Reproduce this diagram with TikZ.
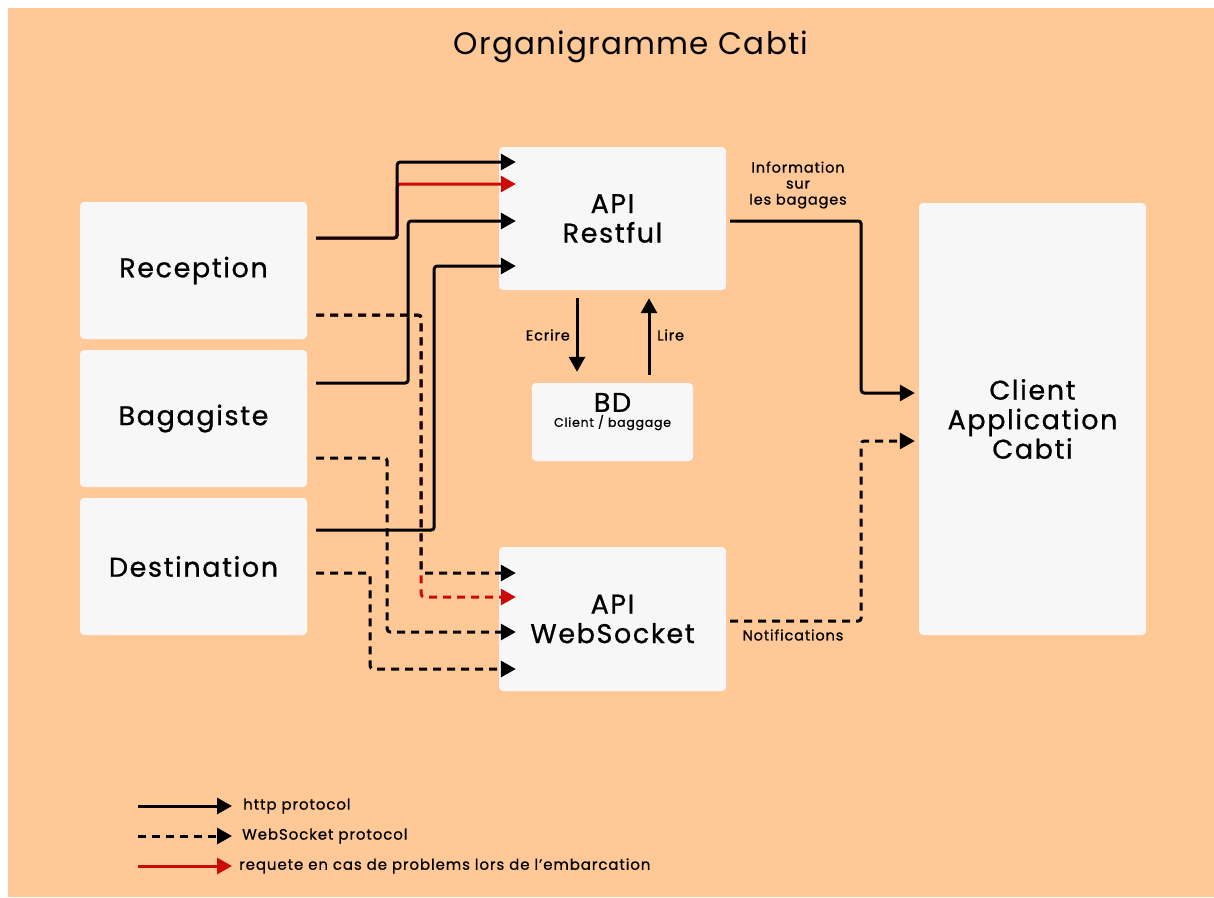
\documentclass[tikz,border=0pt]{standalone}
\usepackage{fontspec}
\setmainfont{Poppins}
\newfontfamily\diagfont{Poppins}[LetterSpace=6, FakeBold=0.8]
\newfontfamily\titlefont{Poppins}[LetterSpace=4]
\usetikzlibrary{arrows.meta, positioning, calc}
\definecolor{bgorange}{HTML}{FFC897}
\definecolor{boxwhite}{HTML}{F7F7F7}
\definecolor{reqred}{HTML}{CC0A0A}

\begin{document}
\begin{tikzpicture}[x=1pt, y=-1pt, >={Triangle[length=15pt,width=16pt]},
    box/.style={rectangle, rounded corners=4pt, fill=boxwhite, minimum width=227pt,
        minimum height=137pt, align=center, inner sep=0pt,
        font=\diagfont\fontsize{27}{29.5}\selectfont},
    http/.style={line width=3pt, ->, rounded corners=3pt},
    wsline/.style={line width=3pt, ->, dash pattern=on 8pt off 6pt, rounded corners=3pt},
    lbl/.style={inner sep=0pt, align=center, font=\diagfont\fontsize{14.5}{16}\selectfont},
    legtext/.style={inner sep=0pt, anchor=west, font=\diagfont\fontsize{15}{18}\selectfont}]
          \useasboundingbox (0,0) rectangle (1214,897);
          \fill[white] (0,0) rectangle (1214,897);
          \fill[bgorange] (8,8) rectangle (1214,897);

          \node[font=\titlefont\fontsize{31}{36}\selectfont] (title) at (631,47) {Organigramme Cabti};

          % boxes
          \node[box] (rec) at (193.5,270.5) {Reception};
          \node[box] (bag) at (193.5,418.5) {Bagagiste};
          \node[box] (dst) at (193.5,566.5) {Destination};
          \node[box, minimum height=143pt] (rest) at (612.5,218.5) {API\\Restful};
          \node[box, minimum height=144pt] (ws) at (612.5,619) {API\\WebSocket};
          \node[box, minimum height=432pt] (cli) at (1032.5,419) {Client\\Application\\Cabti};
          \node[box, minimum width=161pt, minimum height=78pt] (bd) at (612.5,422) {};
          \node[lbl, anchor=north] (bdtxt) at ([yshift=-10pt]bd.north)
              {{\fontsize{27}{24}\selectfont BD}\\[-1pt]{\fontsize{12.5}{14}\selectfont Client / baggage}};

          % http
          \draw[http, reqred] ([xshift=9pt,yshift=32.5pt]rec.east) -- ++(81,0)
              |- ([xshift=17pt,yshift=34.5pt]rest.west);
          \draw[http] ([xshift=9pt,yshift=32.5pt]rec.east) -- ++(81,0)
              |- ([xshift=17pt,yshift=56.5pt]rest.west);
          \draw[http] ([xshift=9pt,yshift=35.5pt]bag.east) -- ++(92,0)
              |- ([xshift=17pt,yshift=-2.5pt]rest.west);
          \draw[http] ([xshift=9pt,yshift=36.5pt]dst.east) -- ++(118,0)
              |- ([xshift=17pt,yshift=-47.5pt]rest.west);

          % websocket
          \draw[wsline, reqred] ([xshift=9pt,yshift=-44.5pt]rec.east) -- ++(105,0)
              |- ([xshift=17pt,yshift=22pt]ws.west);
          \draw[wsline] ([xshift=9pt,yshift=-44.5pt]rec.east) -- ++(105,0)
              |- ([xshift=17pt,yshift=46pt]ws.west);
          \draw[wsline] ([xshift=9pt,yshift=-39.5pt]bag.east) -- ++(71,0)
              |- ([xshift=17pt,yshift=-13pt]ws.west);
          \draw[wsline] ([xshift=9pt,yshift=-6.5pt]dst.east) -- ++(54,0)
              |- ([xshift=17pt,yshift=-50pt]ws.west);

          % bd
          \draw[http] ([xshift=-35.5pt,yshift=-8pt]rest.south) -- ([xshift=-35.5pt,yshift=11pt]bd.north);
          \draw[http] ([xshift=36.5pt,yshift=8pt]bd.north) -- ([xshift=36.5pt,yshift=-8pt]rest.south);
          \node[lbl, anchor=east] (ecr) at (570,335) {Ecrire};
          \node[lbl, anchor=west] (lire) at (657,335) {Lire};

          % client
          \draw[http] ([xshift=4pt,yshift=-2.5pt]rest.east) -- ++(131,0)
              |- ([xshift=-4pt,yshift=26pt]cli.west);
          \draw[wsline] ([xshift=4pt,yshift=-2pt]ws.east) -- ++(131,0)
              |- ([xshift=-4pt,yshift=-22pt]cli.west);
          \node[lbl] (info) at (798,185) {Information\\sur\\les bagages};
          \node[lbl] (notif) at (793,635) {Notifications};

          % legend
          \coordinate (lg1) at (138,806);
          \coordinate (lg2) at (138,836);
          \coordinate (lg3) at (138,866);
          \node[legtext] (lt1) at (243,806) {http protocol};
          \node[legtext] (lt2) at (242,836) {WebSocket protocol};
          \node[legtext] (lt3) at (239,866) {requete en cas de problems lors de l’embarcation};
          \draw[http] (lg1) -- ([xshift=-11pt]lt1.west);
          \draw[wsline] (lg2) -- ([xshift=-10pt]lt2.west);
          \draw[http, reqred] (lg3) -- ([xshift=-7pt]lt3.west);
      \end{tikzpicture}
\end{document}
